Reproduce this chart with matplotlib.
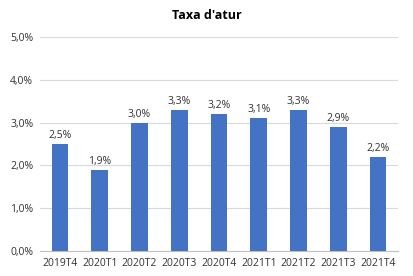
import matplotlib
matplotlib.use("Agg")
import matplotlib.pyplot as plt
from matplotlib.ticker import FuncFormatter

categories = ["2019T4", "2020T1", "2020T2", "2020T3", "2020T4", "2021T1", "2021T2", "2021T3", "2021T4"]
values = [2.5, 1.9, 3.0, 3.3, 3.2, 3.1, 3.3, 2.9, 2.2]
title = "Taxa d'atur"

plt.rcParams['font.family'] = ['Open Sans', 'DejaVu Sans']

fig = plt.figure(figsize=(4.14, 2.76), dpi=100)
ax = fig.add_axes([0.097, 0.091, 0.864, 0.775])

x = range(len(categories))
bars = ax.bar(x, values, width=0.42, color="#4472C4", zorder=3)
for xi, v in zip(x, values):
    ax.text(xi, v + 0.07, f"{v:.1f}%".replace(".", ","), ha="center", va="bottom",
            fontsize=7.5, color="#333333")

ax.set_xlim(-0.5, len(categories) - 0.5)
ax.set_ylim(0, 5)
ax.set_yticks([0, 1, 2, 3, 4, 5])
ax.yaxis.set_major_formatter(FuncFormatter(lambda v, p: f"{v:.1f}%".replace(".", ",")))
ax.set_xticks(list(x))
ax.set_xticklabels(categories)
ax.tick_params(axis="both", length=0, labelsize=7.5, colors="#333333")
ax.tick_params(axis="y", pad=5)
ax.tick_params(axis="x", pad=5)
ax.grid(axis="y", color="#d9d9d9", linewidth=0.8, zorder=0)
for s in ["left", "right", "top"]:
    ax.spines[s].set_visible(False)
ax.spines["bottom"].set_color("#bfbfbf")
ax.spines["bottom"].set_linewidth(0.8)

fig.text(0.5, 0.945, title, ha="center", va="center", fontsize=9, fontweight="bold", color="#000000")

fig.savefig("out.png", dpi=100)
